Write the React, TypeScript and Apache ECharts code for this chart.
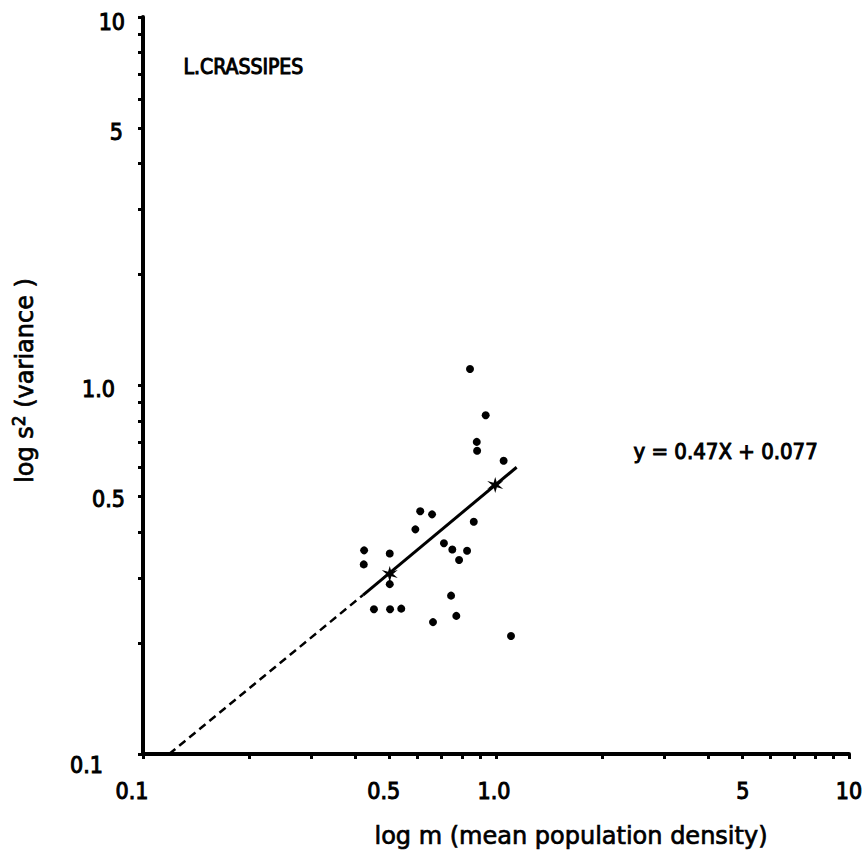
import React, { useEffect, useRef } from 'react';
import * as echarts from 'echarts';

// Observed points (mean density m, variance s^2)
const meanDensity = [0.844, 0.935, 0.882, 0.884, 1.051, 0.61, 0.659, 0.591, 0.865, 0.423, 0.422, 0.5, 0.712, 0.752, 0.828, 0.786, 0.5, 0.451, 0.501, 0.539, 0.746, 0.772, 0.663, 1.103];
const variance = [1.109, 0.83, 0.703, 0.665, 0.625, 0.456, 0.447, 0.407, 0.427, 0.357, 0.327, 0.35, 0.373, 0.359, 0.356, 0.336, 0.289, 0.247, 0.247, 0.248, 0.269, 0.237, 0.228, 0.209];
// Star markers on the fitted line
const starDensity = [0.5, 0.995];
const starVariance = [0.308, 0.537];
// Fitted line (dashed extrapolation + solid part)
const dashedLineX = [0.1186, 0.42];
const dashedLineY = [0.1, 0.27];
const solidLineX = [0.42, 1.144];
const solidLineY = [0.27, 0.6];
// Axis ticks and labels
const xTickValues = [0.1, 0.2, 0.3, 0.4, 0.5, 0.6, 0.7, 0.8, 0.9, 1, 2, 3, 4, 5, 6, 7, 8, 9, 10];
const yTickValues = [0.1, 0.2, 0.3, 0.4, 0.5, 0.6, 0.7, 0.8, 0.9, 1, 2, 3, 4, 5, 6, 7, 8, 9, 10];
const xLabelValues = [0.1, 0.5, 1, 5, 10];
const xLabelTexts = ['0.1', '0.5', '1.0', '5', '10'];
const yLabelValues = [0.1, 0.5, 1, 5, 10];
const yLabelTexts = ['0.1', '0.5', '1.0', '5', '10'];

const title = 'L.CRASSIPES';
const equation = 'y = 0.47X + 0.077';
const xTitle = 'log m (mean population density)';

const NARROW = "'DejaVu Sans Condensed', 'Liberation Sans Narrow', 'Liberation Sans', sans-serif";
const WIDE = "'DejaVu Sans', 'Liberation Sans', sans-serif";

const lg = (v: number) => Math.log10(v);

function labelIndex(vals: number[], v: number) {
  for (let i = 0; i < vals.length; i++) if (Math.abs(lg(vals[i]) - v) < 1e-6) return i;
  return -1;
}

const tickFont = { fontSize: 23, fontFamily: NARROW, color: '#000', textBorderColor: '#000', textBorderWidth: 1 };

export default function App() {
  const ref = useRef<HTMLDivElement>(null);
  useEffect(() => {
    document.body.style.margin = '0';
    if (!ref.current) return;
    const chart = echarts.init(ref.current, null, { renderer: 'svg' });
    const pts = meanDensity.map((m, i) => [lg(m), lg(variance[i])]);
    const stars = starDensity.map((m, i) => [lg(m), lg(starVariance[i])]);
    const dashed = dashedLineX.map((m, i) => [lg(m), lg(dashedLineY[i])]);
    const solid = solidLineX.map((m, i) => [lg(m), lg(solidLineY[i])]);
    const starPath = 'path://M50 0 L59 36 L93.3 25 L68 50 L93.3 75 L59 64 L50 100 L41 64 L6.7 75 L32 50 L6.7 25 L41 36 Z';

    chart.setOption({
      animation: false,
      backgroundColor: '#fff',
      grid: { left: 143, right: 19, top: 17, bottom: 101 },
      xAxis: {
        type: 'value',
        min: -1,
        max: 1,
        splitLine: { show: false },
        axisLine: { show: true, onZero: false, lineStyle: { color: '#000', width: 4 } },
        axisTick: { show: true, customValues: xTickValues.map(lg), length: 5, lineStyle: { color: '#000', width: 3 } },
        axisLabel: {
          customValues: xLabelValues.map(lg),
          showMinLabel: true,
          showMaxLabel: true,
          margin: 25,
          ...tickFont,
          formatter: (v: number) => {
            const i = labelIndex(xLabelValues, v);
            return i < 0 ? '' : `{x${i}|${xLabelTexts[i]}}`;
          },
          rich: {
            x0: { ...tickFont, padding: [0, 22, 0, 0] },
            x1: { ...tickFont, padding: [0, 12, 0, 0] },
            x2: { ...tickFont, padding: [0, 4, 0, 0] },
            x3: { ...tickFont },
            x4: { ...tickFont },
          },
        },
        name: xTitle,
        nameLocation: 'middle',
        nameGap: 70,
        nameTextStyle: { color: '#000', fontSize: 24, fontFamily: WIDE, textBorderColor: '#000', textBorderWidth: 0.7, padding: [0, 0, 0, 150] },
      },
      yAxis: {
        type: 'value',
        min: -1,
        max: 1,
        splitLine: { show: false },
        axisLine: { show: true, onZero: false, lineStyle: { color: '#000', width: 4 } },
        axisTick: { show: true, customValues: yTickValues.map(lg), length: 5, lineStyle: { color: '#000', width: 3 } },
        axisLabel: {
          customValues: yLabelValues.map(lg),
          showMinLabel: true,
          showMaxLabel: true,
          margin: 18,
          ...tickFont,
          formatter: (v: number) => {
            const i = labelIndex(yLabelValues, v);
            return i < 0 ? '' : `{y${i}|${yLabelTexts[i]}}`;
          },
          rich: {
            y0: { ...tickFont, padding: [22, 22, 0, 0] },
            y1: { ...tickFont, padding: [6, 0, 0, 0] },
            y2: { ...tickFont, padding: [6, 10, 0, 0] },
            y3: { ...tickFont, padding: [8, 2, 0, 0] },
            y4: { ...tickFont, padding: [10, 0, 0, 0] },
          },
        },
        name: 'log s{sup|2} (variance )',
        nameLocation: 'middle',
        nameGap: 104,
        nameTextStyle: {
          color: '#000',
          fontSize: 24,
          fontFamily: WIDE,
          textBorderColor: '#000',
          textBorderWidth: 0.7,
          padding: [0, 0, 0, 10],
          rich: { sup: { fontSize: 17, fontFamily: WIDE, color: '#000', textBorderColor: '#000', textBorderWidth: 0.8, padding: [0, 0, 12, 0] } },
        },
      },
      graphic: [
        { type: 'text', left: 183, top: 56, style: { text: title, fontSize: 21, fontFamily: NARROW, fill: '#000', stroke: '#000', lineWidth: 1 } },
        { type: 'text', left: 633, top: 440, style: { text: equation, fontSize: 22, fontFamily: NARROW, fill: '#000', stroke: '#000', lineWidth: 1 } },
      ],
      series: [
        {
          type: 'line',
          data: dashed,
          symbol: 'none',
          lineStyle: { color: '#000', width: 2.5, type: [8, 5] },
          z: 2,
        },
        {
          type: 'line',
          data: solid,
          symbol: 'none',
          lineStyle: { color: '#000', width: 3 },
          z: 2,
        },
        {
          type: 'scatter',
          data: pts,
          symbol: 'circle',
          symbolSize: 8,
          itemStyle: { color: '#000', opacity: 1 },
          z: 3,
        },
        {
          type: 'scatter',
          data: stars,
          symbol: starPath,
          symbolSize: 16,
          itemStyle: { color: '#000', opacity: 1 },
          z: 4,
        },
      ],
    });
    return () => chart.dispose();
  }, []);
  return <div ref={ref} style={{ width: 868, height: 855 }} />;
}
